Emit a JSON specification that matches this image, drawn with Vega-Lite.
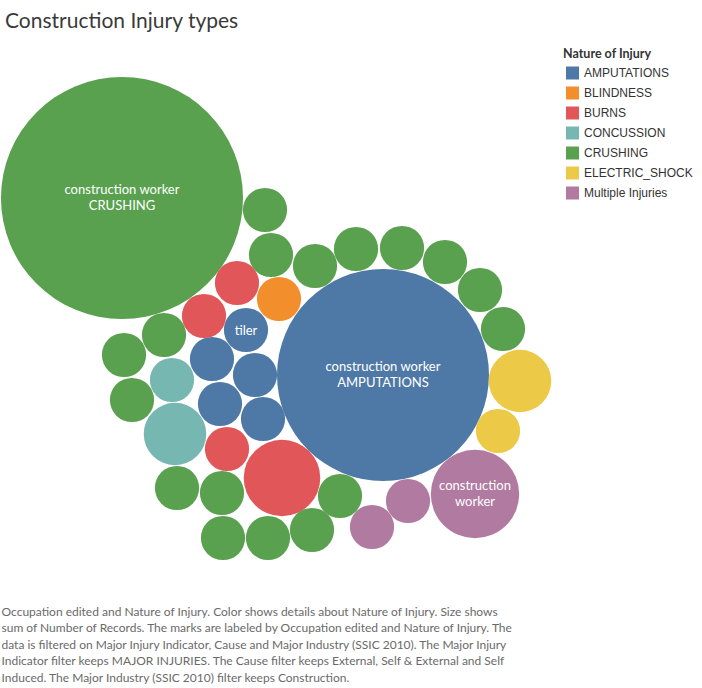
{
  "$schema": "https://vega.github.io/schema/vega-lite/v6.json",
  "autosize": {"type": "none"},
  "width": 555,
  "height": 555,
  "padding": {"left": 0, "top": 40, "right": 147, "bottom": 93},
  "background": "white",
  "title": {
    "text": "Construction Injury types",
    "anchor": "start",
    "frame": "group",
    "dx": 5,
    "offset": -9,
    "baseline": "alphabetic",
    "font": "Lato",
    "fontSize": 21,
    "fontWeight": "normal",
    "color": "#3a3a3a"
  },
  "config": {
    "view": {"stroke": null},
    "font": "Lato"
  },
  "data": {
    "values": [
      {"occupation": "construction worker", "injury": "CRUSHING", "records": 30, "x": 122, "y": 198, "label": "construction worker\nCRUSHING"},
      {"occupation": "construction worker", "injury": "AMPUTATIONS", "records": 23, "x": 383, "y": 375, "label": "construction worker\nAMPUTATIONS"},
      {"occupation": "construction worker", "injury": "Multiple Injuries", "records": 4, "x": 475, "y": 494, "label": "construction\nworker"},
      {"occupation": "", "injury": "BURNS", "records": 3, "x": 282, "y": 478, "label": ""},
      {"occupation": "", "injury": "CONCUSSION", "records": 2, "x": 175, "y": 434, "label": ""},
      {"occupation": "", "injury": "ELECTRIC_SHOCK", "records": 2, "x": 520, "y": 381, "label": ""},
      {"occupation": "", "injury": "ELECTRIC_SHOCK", "records": 1, "x": 498, "y": 431, "label": ""},
      {"occupation": "tiler", "injury": "AMPUTATIONS", "records": 1, "x": 246, "y": 330, "label": "tiler"},
      {"occupation": "", "injury": "AMPUTATIONS", "records": 1, "x": 212, "y": 359, "label": ""},
      {"occupation": "", "injury": "AMPUTATIONS", "records": 1, "x": 255, "y": 375, "label": ""},
      {"occupation": "", "injury": "AMPUTATIONS", "records": 1, "x": 220, "y": 404, "label": ""},
      {"occupation": "", "injury": "AMPUTATIONS", "records": 1, "x": 263, "y": 419, "label": ""},
      {"occupation": "", "injury": "BURNS", "records": 1, "x": 237, "y": 283, "label": ""},
      {"occupation": "", "injury": "BURNS", "records": 1, "x": 204, "y": 316, "label": ""},
      {"occupation": "", "injury": "BURNS", "records": 1, "x": 227, "y": 449, "label": ""},
      {"occupation": "", "injury": "BLINDNESS", "records": 1, "x": 279, "y": 299, "label": ""},
      {"occupation": "", "injury": "CONCUSSION", "records": 1, "x": 172, "y": 380, "label": ""},
      {"occupation": "", "injury": "Multiple Injuries", "records": 1, "x": 408, "y": 501, "label": ""},
      {"occupation": "", "injury": "Multiple Injuries", "records": 1, "x": 372, "y": 527, "label": ""},
      {"occupation": "", "injury": "CRUSHING", "records": 1, "x": 265, "y": 210, "label": ""},
      {"occupation": "", "injury": "CRUSHING", "records": 1, "x": 271, "y": 255, "label": ""},
      {"occupation": "", "injury": "CRUSHING", "records": 1, "x": 315, "y": 266, "label": ""},
      {"occupation": "", "injury": "CRUSHING", "records": 1, "x": 356, "y": 249, "label": ""},
      {"occupation": "", "injury": "CRUSHING", "records": 1, "x": 402, "y": 248, "label": ""},
      {"occupation": "", "injury": "CRUSHING", "records": 1, "x": 445, "y": 262, "label": ""},
      {"occupation": "", "injury": "CRUSHING", "records": 1, "x": 480, "y": 290, "label": ""},
      {"occupation": "", "injury": "CRUSHING", "records": 1, "x": 503, "y": 329, "label": ""},
      {"occupation": "", "injury": "CRUSHING", "records": 1, "x": 164, "y": 335, "label": ""},
      {"occupation": "", "injury": "CRUSHING", "records": 1, "x": 124, "y": 355, "label": ""},
      {"occupation": "", "injury": "CRUSHING", "records": 1, "x": 132, "y": 400, "label": ""},
      {"occupation": "", "injury": "CRUSHING", "records": 1, "x": 177, "y": 488, "label": ""},
      {"occupation": "", "injury": "CRUSHING", "records": 1, "x": 222, "y": 493, "label": ""},
      {"occupation": "", "injury": "CRUSHING", "records": 1, "x": 223, "y": 538, "label": ""},
      {"occupation": "", "injury": "CRUSHING", "records": 1, "x": 268, "y": 538, "label": ""},
      {"occupation": "", "injury": "CRUSHING", "records": 1, "x": 312, "y": 530, "label": ""},
      {"occupation": "", "injury": "CRUSHING", "records": 1, "x": 340, "y": 496, "label": ""}
    ]
  },
  "encoding": {
    "x": {
      "field": "x",
      "type": "quantitative",
      "scale": {"domain": [0, 555], "nice": false, "zero": false},
      "axis": {
        "domain": false,
        "ticks": false,
        "labels": false,
        "grid": false,
        "title": [
          "Occupation edited and Nature of Injury.  Color shows details about Nature of Injury.  Size shows",
          "sum of Number of Records.  The marks are labeled by Occupation edited and Nature of Injury. The",
          "data is filtered on Major Injury Indicator, Cause and Major Industry (SSIC 2010). The Major Injury",
          "Indicator filter keeps MAJOR INJURIES. The Cause filter keeps External, Self & External and Self",
          "Induced. The Major Industry (SSIC 2010) filter keeps Construction."
        ],
        "titleX": 1,
        "titleY": 11,
        "titleAlign": "left",
        "titleAnchor": "start",
        "titleBaseline": "top",
        "titleFont": "Lato",
        "titleFontSize": 12,
        "titleFontWeight": "normal",
        "titleColor": "#6a6a6a",
        "titleLineHeight": 16.6
      }
    },
    "y": {
      "field": "y",
      "type": "quantitative",
      "scale": {"domain": [40, 595], "nice": false, "zero": false, "reverse": true},
      "axis": null
    }
  },
  "layer": [
    {
      "mark": {"type": "circle", "opacity": 1, "strokeWidth": 0},
      "encoding": {
        "color": {
          "field": "injury",
          "type": "nominal",
          "title": "Nature of Injury",
          "scale": {
            "domain": ["AMPUTATIONS", "BLINDNESS", "BURNS", "CONCUSSION", "CRUSHING", "ELECTRIC_SHOCK", "Multiple Injuries"],
            "range": ["#4e79a7", "#f28e2b", "#e15759", "#76b7b2", "#59a14f", "#edc948", "#b07aa1"]
          },
          "legend": {
            "orient": "none",
            "legendX": 563,
            "legendY": 8,
            "padding": 0,
            "symbolType": "square",
            "symbolSize": 169,
            "symbolOpacity": 1,
            "symbolStrokeWidth": 0,
            "symbolOffset": 3,
            "labelOffset": 5,
            "labelFont": "Liberation Sans",
            "labelFontSize": 12,
            "labelColor": "#333333",
            "rowPadding": 7,
            "titleFont": "Lato",
            "titleFontSize": 12.5,
            "titleFontWeight": "bold",
            "titleColor": "#333333",
            "titlePadding": 6
          }
        },
        "size": {
          "field": "records",
          "type": "quantitative",
          "scale": {"type": "linear", "domain": [0, 30], "range": [0, 58600], "zero": true},
          "legend": null
        }
      }
    },
    {
      "transform": [{"filter": "indexof(datum.label, '\\n') >= 0"}],
      "mark": {"type": "text", "lineBreak": "\n", "color": "white", "font": "Lato", "fontSize": 13, "lineHeight": 16, "align": "center", "baseline": "middle", "dy": -8},
      "encoding": {
        "text": {"field": "label", "type": "nominal"}
      }
    },
    {
      "transform": [{"filter": "datum.label != '' && indexof(datum.label, '\\n') < 0"}],
      "mark": {"type": "text", "color": "white", "font": "Lato", "fontSize": 13, "align": "center", "baseline": "middle", "dy": 1},
      "encoding": {
        "text": {"field": "label", "type": "nominal"}
      }
    }
  ]
}
